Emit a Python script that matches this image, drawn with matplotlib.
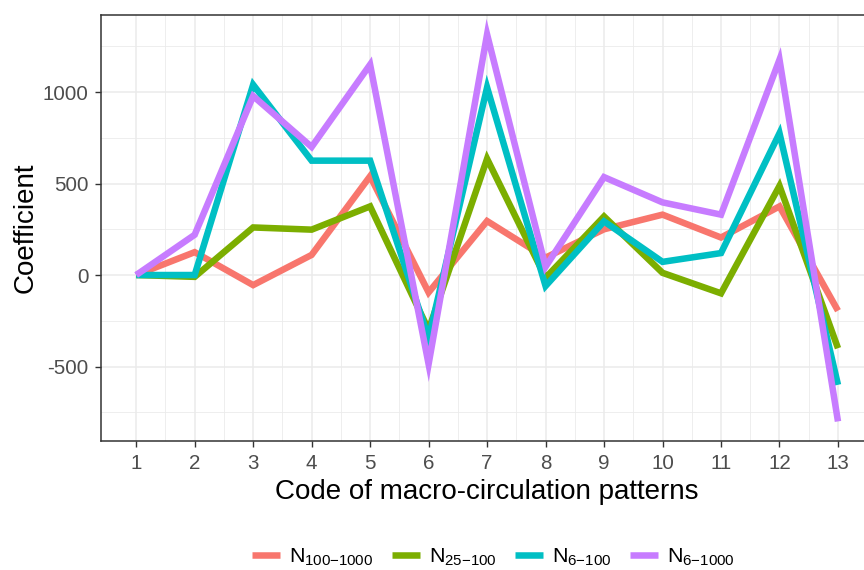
import matplotlib.pyplot as plt

plt.rcParams['font.family'] = ['Liberation Sans', 'DejaVu Sans']
plt.rcParams['mathtext.fontset'] = 'custom'
plt.rcParams['mathtext.rm'] = 'Liberation Sans'
plt.rcParams['mathtext.it'] = 'Liberation Sans'
plt.rcParams['axes.unicode_minus'] = False

codes = list(range(1, 14))
n_100_1000 = [0, 125, -55, 110, 540, -95, 295, 95, 250, 330, 205, 375, -195]
n_25_100 = [0, -10, 260, 248, 375, -300, 635, -15, 320, 12, -100, 487, -400]
n_6_100 = [0, 0, 1040, 625, 625, -345, 1025, -60, 293, 72, 120, 775, -600]
n_6_1000 = [0, 220, 978, 700, 1150, -487, 1315, 45, 535, 397, 330, 1177, -800]

series = [n_100_1000, n_25_100, n_6_100, n_6_1000]
labels = [r'$\mathrm{N}_{100\mathrm{-}1000}$', r'$\mathrm{N}_{25\mathrm{-}100}$',
          r'$\mathrm{N}_{6\mathrm{-}100}$', r'$\mathrm{N}_{6\mathrm{-}1000}$']
colors = ['#F8766D', '#7CAE00', '#00BFC4', '#C77CFF']

fig = plt.figure(figsize=(8.64, 5.70), dpi=100)
# panel runs past the right edge, like the cropped original
ax = fig.add_axes([0.117, 0.2263, 0.8935, 0.7474])

for y, lab, c in zip(series, labels, colors):
    ax.plot(codes, y, color=c, lw=4.7, label=lab, solid_joinstyle='miter',
            solid_capstyle='butt')

ax.set_xlim(0.4, 13.6)
ax.set_ylim(-907, 1421)
ax.set_xticks(codes)
ax.set_yticks([-500, 0, 500, 1000])
ax.set_xticks([x + 0.5 for x in codes[:-1]], minor=True)
ax.set_yticks([-750, -250, 250, 750, 1250], minor=True)
ax.grid(True, which='major', color='#EBEBEB', lw=1.1)
ax.grid(True, which='minor', color='#EBEBEB', lw=0.6)
ax.set_axisbelow(True)
ax.tick_params(which='minor', length=0)
ax.tick_params(which='major', length=4, width=1, color='#333333',
               labelsize=14.8, labelcolor='#4D4D4D', pad=5)
for s in ax.spines.values():
    s.set_color('#333333')
    s.set_linewidth(1.1)

ax.set_xlabel('Code of macro-circulation patterns', fontsize=20, labelpad=5)
ax.set_ylabel('Coefficient', fontsize=20, labelpad=3)

fig.legend(loc='center', bbox_to_anchor=(0.571, 0.023), ncol=4,
           frameon=False, fontsize=15.4, handlelength=1.3, handletextpad=0.4,
           columnspacing=0.9)

fig.savefig('out.png', dpi=100)
